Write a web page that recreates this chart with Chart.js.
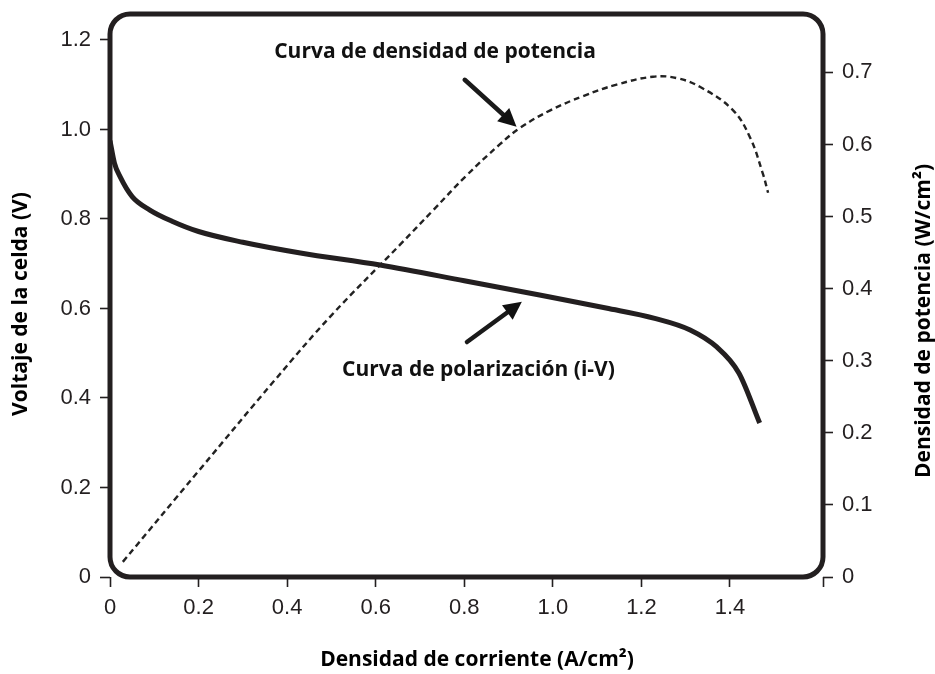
<!DOCTYPE html>
<html><head><meta charset="utf-8">
<script src="https://cdn.jsdelivr.net/npm/chart.js@4/dist/chart.umd.min.js"></script>
<style>html,body{margin:0;padding:0;background:#fff}canvas{display:block}</style>
</head><body>
<canvas id="c" width="935" height="674"></canvas>
<script>
// ---- data ----
const currentPol = [0, 0.01, 0.023, 0.05, 0.09, 0.14, 0.2, 0.3, 0.43, 0.61, 0.8, 0.97, 1.12, 1.23, 1.31, 1.37, 1.42, 1.467];
const voltage    = [0.975, 0.925, 0.894, 0.85, 0.82, 0.795, 0.772, 0.748, 0.724, 0.697, 0.662, 0.630, 0.601, 0.578, 0.552, 0.514, 0.456, 0.344];
const currentPow = [0.029, 0.2, 0.372, 0.5, 0.655, 0.73, 0.805, 0.88, 0.926, 0.993, 1.068, 1.144, 1.226, 1.28, 1.332, 1.406, 1.445, 1.474, 1.486];
const powerDensity = [0.021, 0.147, 0.273, 0.363, 0.461, 0.509, 0.557, 0.600, 0.623, 0.647, 0.667, 0.683, 0.694, 0.692, 0.680, 0.648, 0.610, 0.560, 0.533];

const xTicks = [0, 0.2, 0.4, 0.6, 0.8, 1.0, 1.2, 1.4];
const xTickLabels = ['0', '0.2', '0.4', '0.6', '0.8', '1.0', '1.2', '1.4'];
const voltTicks = [0, 0.2, 0.4, 0.6, 0.8, 1.0, 1.2];
const voltTickLabels = ['0', '0.2', '0.4', '0.6', '0.8', '1.0', '1.2'];
const powTicks = [0, 0.1, 0.2, 0.3, 0.4, 0.5, 0.6, 0.7];
const powTickLabels = ['0', '0.1', '0.2', '0.3', '0.4', '0.5', '0.6', '0.7'];

const xTitle = 'Densidad de corriente (A/cm²)';
const yTitle = 'Voltaje de la celda (V)';
const y1Title = 'Densidad de potencia (W/cm²)';
const noteTexts = ['Curva de densidad de potencia', 'Curva de polarización (i-V)'];

// axis extents
const X_MAX = 1.61, Y_MAX = 1.258, Y1_MAX = 0.781;

// ---- styling / layout ----
const INK = '#231f20';
const TICK_FONT = {family: '"Liberation Sans", Arial, sans-serif', size: 22};
const BOLD = '"Open Sans", "Noto Sans", sans-serif';

// annotation placement (in data units of x / left y axis)
const notes = [
  {text: noteTexts[0], x: 0.734, y: 1.173, tail: [0.801, 1.111], tip: [0.918, 1.006]},
  {text: noteTexts[1], x: 0.832, y: 0.463, tail: [0.806, 0.525], tip: [0.930, 0.615]}
];

function pairs(xs, ys) { return xs.map((x, i) => ({x: x, y: ys[i]})); }
function labeler(vals, labels) {
  return v => { const i = vals.findIndex(t => Math.abs(t - v) < 1e-6); return i >= 0 ? labels[i] : ''; };
}

const framePlugin = {
  id: 'frame',
  afterDatasetsDraw(chart) {
    const {ctx, chartArea: a, scales} = chart;
    ctx.save();
    // rounded frame
    const r = 20;
    ctx.lineWidth = 5;
    ctx.strokeStyle = INK;
    ctx.beginPath();
    ctx.moveTo(a.left + r, a.top);
    ctx.lineTo(a.right - r, a.top);
    ctx.arcTo(a.right, a.top, a.right, a.top + r, r);
    ctx.lineTo(a.right, a.bottom - r);
    ctx.arcTo(a.right, a.bottom, a.right - r, a.bottom, r);
    ctx.lineTo(a.left + r, a.bottom);
    ctx.arcTo(a.left, a.bottom, a.left, a.bottom - r, r);
    ctx.lineTo(a.left, a.top + r);
    ctx.arcTo(a.left, a.top, a.left + r, a.top, r);
    ctx.closePath();
    ctx.stroke();

    // annotations
    ctx.fillStyle = '#111';
    ctx.strokeStyle = '#1a1a1a';
    ctx.font = 'bold 21px ' + BOLD;
    ctx.textAlign = 'center';
    ctx.textBaseline = 'middle';
    notes.forEach(n => {
      ctx.fillText(n.text, scales.x.getPixelForValue(n.x), scales.y.getPixelForValue(n.y));
      const x0 = scales.x.getPixelForValue(n.tail[0]), y0 = scales.y.getPixelForValue(n.tail[1]);
      const x1 = scales.x.getPixelForValue(n.tip[0]), y1 = scales.y.getPixelForValue(n.tip[1]);
      const ang = Math.atan2(y1 - y0, x1 - x0);
      const hl = 18, hw = 9;
      const bx = x1 - hl * Math.cos(ang), by = y1 - hl * Math.sin(ang);
      ctx.lineWidth = 4.5;
      ctx.lineCap = 'round';
      ctx.beginPath(); ctx.moveTo(x0, y0); ctx.lineTo(bx + 2 * Math.cos(ang), by + 2 * Math.sin(ang)); ctx.stroke();
      ctx.beginPath();
      ctx.moveTo(x1, y1);
      ctx.lineTo(bx + hw * Math.sin(ang), by - hw * Math.cos(ang));
      ctx.lineTo(bx - hw * Math.sin(ang), by + hw * Math.cos(ang));
      ctx.closePath();
      ctx.fill();
    });

    // axis titles
    ctx.fillStyle = '#000';
    ctx.font = 'bold 21px ' + BOLD;
    ctx.fillText(xTitle, 477, 660);
    ctx.save(); ctx.translate(21, 304); ctx.rotate(-Math.PI / 2); ctx.fillText(yTitle, 0, 0); ctx.restore();
    ctx.save(); ctx.translate(924, 321); ctx.rotate(-Math.PI / 2); ctx.fillText(y1Title, 0, 0); ctx.restore();
    ctx.restore();
  }
};

const tickGrid = {display: true, drawOnChartArea: false, drawTicks: true, tickLength: 10, tickWidth: 1.6, tickColor: INK};

new Chart(document.getElementById('c'), {
  type: 'line',
  data: {
    datasets: [
      {label: 'Curva de polarización (i-V)', data: pairs(currentPol, voltage), yAxisID: 'y',
       borderColor: INK, borderWidth: 5, pointRadius: 0, cubicInterpolationMode: 'monotone', fill: false},
      {label: 'Curva de densidad de potencia', data: pairs(currentPow, powerDensity), yAxisID: 'y1',
       borderColor: '#222', borderWidth: 2.4, borderDash: [6, 4], pointRadius: 0, tension: 0.4, fill: false}
    ]
  },
  options: {
    responsive: false,
    animation: false,
    devicePixelRatio: 1,
    layout: {padding: {top: 14, left: 0, right: 0, bottom: 0}},
    plugins: {legend: {display: false}, tooltip: {enabled: false}},
    scales: {
      x: {type: 'linear', position: 'bottom', min: 0, max: X_MAX,
          afterBuildTicks: s => { s.ticks = xTicks.concat([X_MAX]).map(v => ({value: v})); },
          afterFit: s => { s.height = 97; s.paddingLeft = 0; s.paddingRight = 0; },
          ticks: {callback: labeler(xTicks, xTickLabels), color: INK, font: TICK_FONT, padding: 8, maxRotation: 0, autoSkip: false},
          grid: tickGrid, border: {display: false}, title: {display: false}},
      y: {type: 'linear', position: 'left', min: 0, max: Y_MAX,
          afterBuildTicks: s => { s.ticks = voltTicks.map(v => ({value: v})); },
          afterFit: s => { s.width = 110; s.paddingTop = 0; s.paddingBottom = 0; },
          ticks: {callback: labeler(voltTicks, voltTickLabels), color: INK, font: TICK_FONT, padding: 9, autoSkip: false},
          grid: tickGrid, border: {display: false}, title: {display: false}},
      y1: {type: 'linear', position: 'right', min: 0, max: Y1_MAX,
          afterBuildTicks: s => { s.ticks = powTicks.map(v => ({value: v})); },
          afterFit: s => { s.width = 112; s.paddingTop = 0; s.paddingBottom = 0; },
          ticks: {callback: labeler(powTicks, powTickLabels), color: INK, font: TICK_FONT, padding: 9, autoSkip: false},
          grid: tickGrid, border: {display: false}, title: {display: false}}
    }
  },
  plugins: [framePlugin]
});
</script>
</body></html>
